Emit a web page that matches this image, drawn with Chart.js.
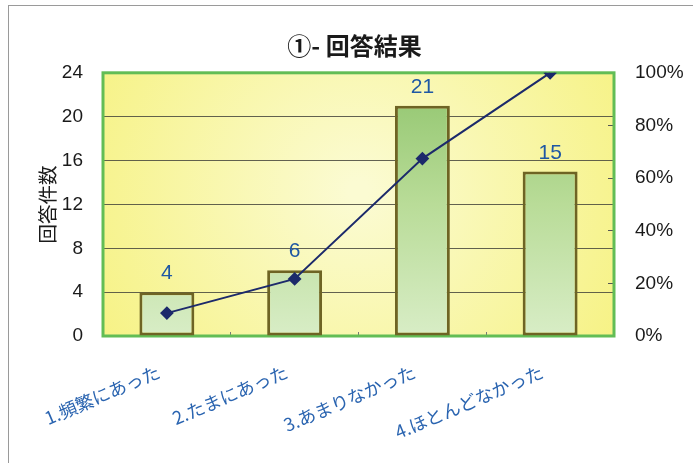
<!DOCTYPE html>
<html>
<head>
<meta charset="utf-8">
<script src="https://cdn.jsdelivr.net/npm/chart.js@4/dist/chart.umd.min.js"></script>
<style>
  html, body { margin: 0; padding: 0; background: #fff; }
  #wrap { position: relative; width: 693px; height: 463px; overflow: hidden; }
  #frame { position: absolute; left: 8px; top: 5px; width: 800px; height: 600px;
           border-left: 1px solid #9a9a9a; border-top: 1px solid #9a9a9a; pointer-events: none; }
  canvas { position: absolute; left: 0; top: 0; }
</style>
</head>
<body>
<div id="wrap">
  <canvas id="c" width="693" height="463"></canvas>
  <div id="frame"></div>
</div>
<script>
const titleText = '①- 回答結果';
const categories = ['1.頻繁にあった', '2.たまにあった', '3.あまりなかった', '4.ほとんどなかった'];
const counts = [4, 6, 21, 15];
const cumulativePct = [8.7, 21.7, 67.4, 100];
const leftTicks = [0, 4, 8, 12, 16, 20, 24];
const rightTicks = [0, 20, 40, 60, 80, 100];
const leftAxisTitle = '回答件数';

const numFont = "'Liberation Sans Narrow', 'Liberation Sans', Arial, sans-serif";
const jpFont = "'Noto Sans CJK JP', 'Noto Sans', sans-serif";

const plotBg = {
  id: 'plotBg',
  beforeDraw(chart) {
    const { ctx, chartArea: a } = chart;
    const cx = (a.left + a.right) / 2, cy = a.top + (a.bottom - a.top) * 0.45;
    const g = ctx.createRadialGradient(cx, cy, 10, cx, cy, (a.right - a.left) * 0.6);
    g.addColorStop(0, '#fbfbd2');
    g.addColorStop(1, '#f6f282');
    ctx.save();
    ctx.fillStyle = g;
    ctx.fillRect(a.left, a.top, a.right - a.left, a.bottom - a.top);
    ctx.restore();
  },
  beforeDatasetsDraw(chart) {
    const { ctx, chartArea: a } = chart;
    ctx.save();
    ctx.strokeStyle = '#62bd55';
    ctx.lineWidth = 3;
    ctx.strokeRect(a.left, a.top, a.right - a.left, a.bottom - a.top);
    ctx.restore();
  }
};

const valueLabels = {
  id: 'valueLabels',
  afterDatasetsDraw(chart) {
    const idx = chart.data.datasets.findIndex(d => d.type === 'bar');
    const meta = chart.getDatasetMeta(idx);
    const { ctx } = chart;
    ctx.save();
    ctx.fillStyle = '#1f58a4';
    ctx.font = "21px " + numFont;
    ctx.textAlign = 'center';
    ctx.textBaseline = 'alphabetic';
    meta.data.forEach((bar, i) => {
      ctx.fillText(String(counts[i]), bar.x, bar.y - 13);
    });
    ctx.restore();
  }
};

const ctx = document.getElementById('c').getContext('2d');
new Chart(ctx, {
  data: {
    labels: categories,
    datasets: [
      {
        type: 'line',
        data: cumulativePct,
        yAxisID: 'y1',
        borderColor: '#1c2a6b',
        backgroundColor: '#1c2a6b',
        borderWidth: 2,
        pointStyle: 'rectRot',
        pointRadius: 5.5,
        pointHoverRadius: 5.5,
        tension: 0,
        order: 0
      },
      {
        type: 'bar',
        data: counts,
        yAxisID: 'y',
        backgroundColor(c) {
          const a = c.chart.chartArea;
          if (!a) return '#c3e0a6';
          const g = c.chart.ctx.createLinearGradient(0, a.top, 0, a.bottom);
          g.addColorStop(0, '#8fc46c');
          g.addColorStop(0.5, '#b9dc98');
          g.addColorStop(1, '#d8edc6');
          return g;
        },
        borderColor: '#6e6424',
        borderWidth: 3,
        borderSkipped: false,
        categoryPercentage: 1,
        barPercentage: 0.43,
        order: 1
      }
    ]
  },
  options: {
    responsive: false,
    animation: false,
    events: [],
    layout: { padding: { left: 16, right: 0, top: 0, bottom: 0 } },
    plugins: {
      legend: { display: false },
      tooltip: { enabled: false },
      title: {
        display: true,
        text: titleText,
        color: '#1a1a1a',
        font: { family: jpFont, size: 24, weight: 'bold' },
        padding: { top: 31, bottom: 13 }
      }
    },
    scales: {
      x: {
        type: 'category',
        offset: true,
        grid: { display: true, drawOnChartArea: false, drawTicks: true, tickLength: -4, color: '#777', offset: true },
        border: { display: false },
        ticks: {
          color: '#2a64b0',
          font: { family: jpFont, size: 18 },
          minRotation: 23,
          maxRotation: 23,
          autoSkip: false,
          padding: 29,
          labelOffset: -8
        },
        afterFit(s) { s.height = 127; }
      },
      y: {
        position: 'left',
        min: 0,
        max: 24,
        afterBuildTicks(s) { s.ticks = leftTicks.map(v => ({ value: v })); },
        grid: { color: 'rgba(70,70,60,0.85)', lineWidth: 1, drawTicks: false },
        border: { display: false },
        ticks: {
          color: '#1a1a1a',
          font: { family: numFont, size: 19 },
          padding: 20
        },
        title: {
          display: true,
          text: leftAxisTitle,
          color: '#1a1a1a',
          font: { family: jpFont, size: 19.5 },
          padding: { top: 20, bottom: 0 }
        },
        afterFit(s) { s.width = 87; }
      },
      y1: {
        position: 'right',
        min: 0,
        max: 100,
        afterBuildTicks(s) { s.ticks = rightTicks.map(v => ({ value: v })); },
        grid: { drawOnChartArea: false, drawTicks: true, tickLength: -6, color: '#555' },
        border: { display: false },
        ticks: {
          color: '#1a1a1a',
          font: { family: numFont, size: 19 },
          padding: 27,
          callback: v => v + '%'
        },
        afterFit(s) { s.width = 79; }
      }
    }
  },
  plugins: [plotBg, valueLabels]
});
</script>
</body>
</html>
